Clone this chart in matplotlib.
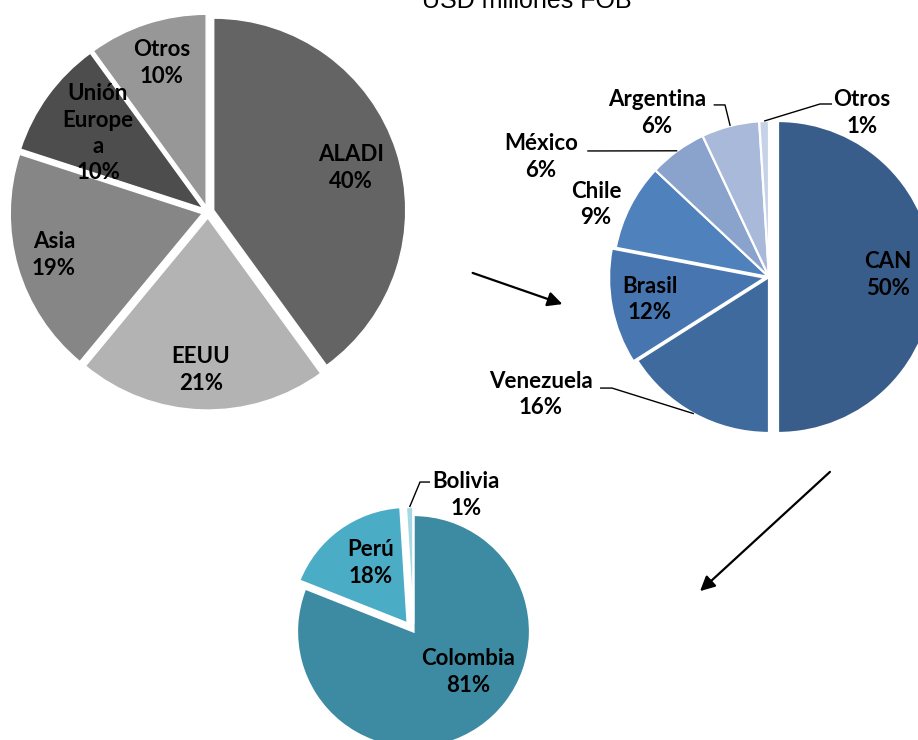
import matplotlib
matplotlib.use("Agg")
import matplotlib.pyplot as plt
import numpy as np

# ---------------- data ----------------
reg_labels = ["ALADI", "EEUU", "Asia", "Unión\nEurope\na", "Otros"]
reg_pct = [40, 21, 19, 10, 10]

aladi_labels = ["CAN", "Venezuela", "Brasil", "Chile", "México", "Argentina", "Otros"]
aladi_pct = [50, 16, 12, 9, 6, 6, 1]

can_labels = ["Colombia", "Perú", "Bolivia"]
can_pct = [81, 18, 1]

title = "USD millones FOB"

# ---------------- style / layout ----------------
W, H = 918, 740
FONT = ["Lato", "DejaVu Sans"]
FS = 16

reg_colors = ["#646464", "#b3b3b3", "#868686", "#4d4d4d", "#979797"]
aladi_colors = ["#385d8a", "#3f6a9d", "#4675af", "#4f81bd", "#89a3cc", "#a9b9d9", "#c6d2e7"]
can_colors = ["#3d8ba3", "#4bacc6", "#a6d7e4"]

def Y(v):
    return H - v

fig = plt.figure(figsize=(W / 100, H / 100), dpi=100)
ax = fig.add_axes([0, 0, 1, 1])


def draw_pie(values, colors, center, r, explode, lw):
    wedges, _ = ax.pie(values, colors=colors, center=center, radius=r,
                       startangle=90, counterclock=False, explode=explode,
                       wedgeprops=dict(edgecolor="white", linewidth=lw))
    return wedges


def label_pie(wedges, labels, pcts, center, r, offsets, leaders=None):
    leaders = leaders or {}
    for i, (w, lab, p, off) in enumerate(zip(wedges, labels, pcts, offsets)):
        x = center[0] + off[0] * r
        y = center[1] + off[1] * r
        ax.text(x, y, f"{lab}\n{p}%", ha="center", va="center",
                fontsize=FS, fontweight="bold", family=FONT, color="black",
                linespacing=1.3)
        if i in leaders:
            (ax0, ay0), (ex, ey) = leaders[i]
            tm = np.deg2rad(0.5 * (w.theta1 + w.theta2))
            cx, cy = w.center
            px = cx + w.r * np.cos(tm)
            py = cy + w.r * np.sin(tm)
            ax.plot([center[0] + ax0 * r, center[0] + ex * r, px],
                    [center[1] + ay0 * r, center[1] + ey * r, py],
                    color="black", lw=1.0, solid_capstyle="butt")


# Pie 1: regions
c1, r1 = (208, Y(212)), 192
w1 = draw_pie(reg_pct, reg_colors, c1, r1, [6] * len(reg_pct), 1.0)
off1 = [(0.745, 0.229), (-0.036, -0.823), (-0.802, -0.224), (-0.573, 0.411), (-0.24, 0.776)]
label_pie(w1, reg_labels, reg_pct, c1, r1, off1)

# Pie 2: ALADI
c2, r2 = (769, Y(277)), 156
w2 = draw_pie(aladi_pct, aladi_colors, c2, r2, [9, 0, 4, 0, 0, 0, 0], 1.6)
off2 = [(0.763, 0.013), (-1.462, -0.756), (-0.763, -0.147), (-1.109, 0.462),
        (-1.462, 0.769), (-0.718, 1.051), (0.596, 1.051)]
lead2 = {1: ((-1.083, -0.712), (-1.006, -0.712)),
         4: ((-1.165, 0.808), (-1.09, 0.808)),
         5: ((-0.355, 1.103), (-0.282, 1.103)),
         6: ((0.404, 1.109), (0.327, 1.109))}
label_pie(w2, aladi_labels, aladi_pct, c2, r2, off2, lead2)

# Pie 3: CAN
c3, r3 = (413.5, Y(631.5)), 116.5
w3 = draw_pie(can_pct, can_colors, c3, r3, [0, 10, 8], 1.6)
off3 = [(0.468, -0.348), (-0.365, 0.588), (0.451, 1.172)]
lead3 = {2: ((0.142, 1.283), (0.056, 1.283))}
label_pie(w3, can_labels, can_pct, c3, r3, off3, lead3)

# Arrows
ax.annotate("", xy=(565, Y(305)), xytext=(470, Y(272)),
            arrowprops=dict(arrowstyle="-|>", color="black", lw=1.6, mutation_scale=22))
ax.annotate("", xy=(698, Y(593)), xytext=(832, Y(470)),
            arrowprops=dict(arrowstyle="-|>", color="black", lw=1.6, mutation_scale=22))

# Title (partially cut at top, as in the reference)
ax.text(527, Y(8), title, ha="center", va="baseline", fontsize=18,
        family=["Liberation Sans", "DejaVu Sans"], color="black")

ax.set_xlim(0, W)
ax.set_ylim(0, H)
ax.set_aspect("equal")
ax.axis("off")
fig.savefig("out.png", dpi=100, facecolor="white")
